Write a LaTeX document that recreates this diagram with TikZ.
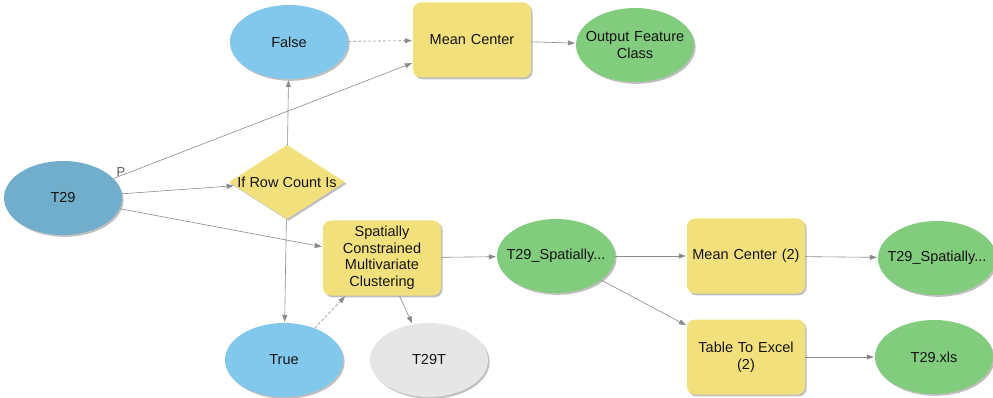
\documentclass[tikz,border=0pt]{standalone}
\usepackage{fontspec}
\setmainfont{Liberation Sans}
\usetikzlibrary{shapes.geometric,shadows,arrows.meta}

\definecolor{dsblue}{HTML}{70AECB}
\definecolor{varblue}{HTML}{82C8EC}
\definecolor{toolyellow}{HTML}{F2E07C}
\definecolor{outgreen}{HTML}{82CC7E}
\definecolor{tmpgray}{HTML}{E6E6E6}
\definecolor{linkgray}{HTML}{8A8A8A}

% a centred line of text that takes no width, so long labels keep the oval size
\newcommand{\ovline}[1]{\makebox[0pt][c]{#1}}

\tikzset{
  x=1pt, y=-1pt,
  every node/.style={font=\fontsize{14.5}{16.5}\selectfont, text=black!92},
  castshadow/.style={drop shadow={shadow xshift=1.6pt, shadow yshift=-1.8pt, fill=black, opacity=0.25}},
  mboval/.style={ellipse, minimum width=118pt, minimum height=74pt, inner sep=0pt,
    text width=60pt, align=center, castshadow},
  mbdata/.style={mboval, fill=dsblue},
  mbvar/.style={mboval, fill=varblue},
  mbout/.style={mboval, fill=outgreen},
  mbtemp/.style={mboval, fill=tmpgray},
  mbtool/.style={rectangle, rounded corners=8pt, fill=toolyellow, minimum width=118pt,
    minimum height=75pt, inner sep=0pt, text width=114pt, align=center, castshadow},
  mblogic/.style={diamond, fill=toolyellow, minimum width=116pt, minimum height=74pt,
    inner sep=0pt, aspect=1.57, castshadow},
  mblink/.style={draw=linkgray, line width=0.6pt, -{Triangle[length=7pt,width=5pt]}, shorten >=1pt},
  mbprelink/.style={mblink, dash pattern=on 3pt off 2pt},
}

\begin{document}
\begin{tikzpicture}
\useasboundingbox (0,0) rectangle (993,398);

% model elements
\node[mbdata]  (t29)   at (63,198)  {\ovline{T29}};
\node[mbvar]   (false) at (289,42)  {\ovline{False}};
\node[mbtool]  (mc)    at (472,40)  {Mean Center};
\node[mbout]   (ofc)   at (635,45)  {\ovline{Output Feature}\\\ovline{Class}};
\node[mblogic] (ifrow) at (287,182) {If Row Count Is};
\node[mbtool]  (scmc)  at (382,258) {Spatially\\Constrained\\Multivariate\\Clustering};
\node[mbvar]   (true)  at (284,360) {\ovline{True}};
\node[mbtemp]  (t29t)  at (429,360) {\ovline{T29T}};
\node[mbout]   (spat)  at (556,256) {\ovline{T29\_Spatially...}};
\node[mbtool]  (mc2)   at (746,256) {Mean Center (2)};
\node[mbout]   (spat2) at (937,258) {\ovline{T29\_Spatially...}};
\node[mbtool]  (tte)   at (746,357) {Table To Excel\\(2)};
\node[mbout]   (xls)   at (934,357) {\ovline{T29.xls}};

% parameter tag on the T29 link
\node[text=black!65, font=\fontsize{13}{15}\selectfont] (ptag) at (121,172) {P};

% connections
\draw[mbprelink] (false) -- (mc);
\draw[mblink] (mc) -- (ofc);
\draw[mblink] (t29) -- (mc);
\draw[mblink] (t29) -- (ifrow);
\draw[mblink] (t29) -- (scmc);
\draw[mblink] (ifrow) -- (false);
\draw[mblink] (ifrow) -- (true);
\draw[mbprelink] (true) -- (scmc);
\draw[mblink] (scmc) -- (t29t);
\draw[mblink] (scmc) -- (spat);
\draw[mblink] (spat) -- (mc2);
\draw[mblink] (spat) -- (tte);
\draw[mblink] (mc2) -- (spat2);
\draw[mblink] (tte) -- (xls);
\end{tikzpicture}
\end{document}
